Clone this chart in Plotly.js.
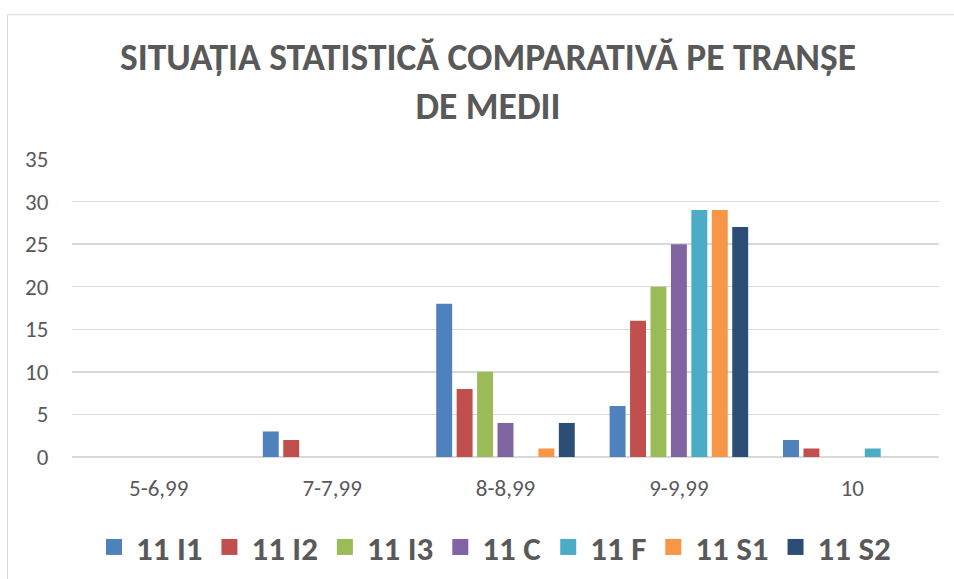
<!DOCTYPE html>
<html>
<head>
<meta charset="utf-8">
<script src="https://cdn.plot.ly/plotly-3.0.1.min.js"></script>
<style>
html,body{margin:0;padding:0;background:#fff;}
#chart{width:954px;height:579px;}
</style>
</head>
<body>
<div id="chart"></div>
<script>
const categories = ["5-6,99", "7-7,99", "8-8,99", "9-9,99", "10"];
const seriesNames = ["11 I1", "11 I2", "11 I3", "11 C", "11 F", "11 S1", "11 S2"];
const v_I1 = [0, 3, 18, 6, 2];
const v_I2 = [0, 2, 8, 16, 1];
const v_I3 = [0, 0, 10, 20, 0];
const v_C  = [0, 0, 4, 25, 0];
const v_F  = [0, 0, 0, 29, 1];
const v_S1 = [0, 0, 1, 29, 0];
const v_S2 = [0, 0, 4, 27, 0];
const seriesValues = [v_I1, v_I2, v_I3, v_C, v_F, v_S1, v_S2];
const colors = ["#4F81BD", "#C0504D", "#9BBB59", "#8064A2", "#4BACC6", "#F79646", "#2C4D75"];
const yTicks = [0, 5, 10, 15, 20, 25, 30, 35];

const FONT = "Carlito, 'Liberation Sans Narrow', 'Liberation Sans', sans-serif";

const barTraces = seriesNames.map((n, i) => ({
  type: "bar",
  name: n,
  x: categories,
  y: seriesValues[i],
  marker: {color: colors[i], line: {width: 0}},
  showlegend: false,
  legendgroup: n
}));
// legend-only entries (bigger square swatches)
const legendTraces = seriesNames.map((n, i) => ({
  type: "scatter",
  mode: "markers",
  name: n,
  x: [null],
  y: [null],
  marker: {color: colors[i], symbol: "square", size: 16},
  showlegend: true,
  legendgroup: n
}));

const L = 72, T = 159, W = 867, H = 298.5;
const px = X => (X - L) / W;
const py = Y => (T + H - Y) / H;

const layout = {
  width: 954, height: 579,
  margin: {l: L, r: 954 - L - W, t: T, b: 579 - T - H, pad: 0, autoexpand: false},
  paper_bgcolor: "#ffffff",
  plot_bgcolor: "#ffffff",
  barmode: "group",
  bargap: 0.175,
  bargroupgap: 0.22,
  title: {
    text: "SITUAȚIA STATISTICĂ COMPARATIVĂ PE TRANȘE<br>DE MEDII",
    font: {family: FONT, size: 37.5, color: "#595959", weight: "bold"},
    xref: "container", x: 488/954, xanchor: "center",
    yref: "container", y: 1 - 70/579, yanchor: "top"
  },
  xaxis: {
    type: "category",
    tickfont: {family: FONT, size: 23, color: "#595959"},
    showgrid: false,
    showline: false,
    zeroline: false,
    automargin: false,
    ticks: "outside", ticklen: 10, tickcolor: "rgba(0,0,0,0)",
    fixedrange: true
  },
  yaxis: {
    range: [0, 35],
    tickvals: yTicks,
    ticktext: yTicks.map(String),
    tickfont: {family: FONT, size: 23, color: "#595959"},
    showgrid: true, gridcolor: "#D9D9D9", gridwidth: 1.5,
    zeroline: true, zerolinecolor: "#D9D9D9", zerolinewidth: 1.5,
    showline: false,
    automargin: false,
    ticks: "outside", ticklen: 18, tickcolor: "rgba(0,0,0,0)",
    fixedrange: true
  },
  showlegend: true,
  legend: {
    orientation: "h",
    xref: "container", x: 494/954, xanchor: "center",
    yref: "container", y: 1 - 547/579, yanchor: "middle",
    itemwidth: 34,
    font: {family: FONT, size: 33, color: "#595959", weight: "bold"},
    itemclick: false, itemdoubleclick: false,
    traceorder: "normal"
  },
  shapes: [{
    type: "rect", xref: "paper", yref: "paper",
    x0: px(7.5), x1: px(970), y0: py(600), y1: py(14.5),
    line: {color: "#D9D9D9", width: 1}, fillcolor: "rgba(0,0,0,0)",
    layer: "below"
  }]
};

Plotly.newPlot("chart", barTraces.concat(legendTraces), layout, {displayModeBar: false, staticPlot: true});
</script>
</body>
</html>
